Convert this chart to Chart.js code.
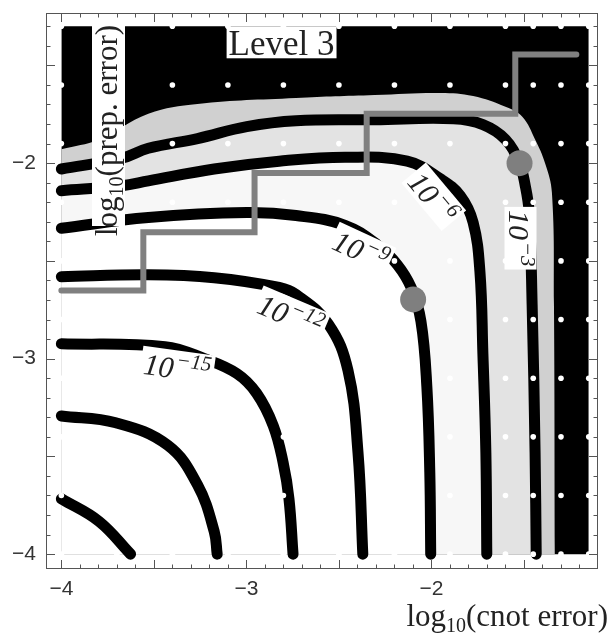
<!DOCTYPE html>
<html>
<head>
<meta charset="utf-8">
<script src="https://cdn.jsdelivr.net/npm/chart.js@4.4.1/dist/chart.umd.min.js"></script>
<style>
  html, body { margin: 0; padding: 0; background: #fff; }
  #wrap { width: 611px; height: 638px; }
</style>
</head>
<body>
<div id="wrap"><canvas id="grafico" width="611" height="638"></canvas></div>
<script>
// axes: log10(cnot error) horizontal, log10(prep. error) vertical
const xTicks = [-4, -3, -2];
const yTicks = [-4, -3, -2];

// sampled region (black = logical error too high)
const regionX = [-4, -1.15];
const regionY = [-1.3, -1.3];

// edge of the mid-gray band
const bandX = [-4.0, -3.796, -3.53, -3.264, -2.732, -2.307, -1.951, -1.775, -1.6, -1.509, -1.44, -1.386, -1.349, -1.338, -1.333];
const bandY = [-1.929, -1.879, -1.747, -1.697, -1.667, -1.652, -1.641, -1.657, -1.712, -1.763, -1.879, -2.0, -2.152, -2.722, -4.0];

// contour lines 10^-3 ... 10^-21
const c3X = [-4.0, -3.674, -3.53, -3.264, -2.998, -2.732, -2.307, -1.881, -1.722, -1.6, -1.525, -1.493, -1.472, -1.456, -1.44, -1.434];
const c3Y = [-2.03, -1.975, -1.924, -1.874, -1.813, -1.783, -1.778, -1.773, -1.803, -1.879, -2.0, -2.116, -2.253, -2.722, -3.48, -4.0];
const c6X = [-4.0, -3.674, -3.53, -3.174, -2.823, -2.467, -2.131, -1.951, -1.844, -1.775, -1.738, -1.722, -1.706, -1.701];
const c6Y = [-2.141, -2.116, -2.091, -2.03, -1.99, -1.97, -1.99, -2.081, -2.167, -2.303, -2.556, -2.975, -3.48, -4.0];
const c9X = [-4.0, -3.53, -2.998, -2.732, -2.467, -2.291, -2.184, -2.11, -2.057, -2.025, -2.009, -2.004];
const c9Y = [-2.333, -2.278, -2.253, -2.268, -2.318, -2.419, -2.52, -2.636, -2.808, -3.141, -3.581, -4.0];
const c12X = [-4.0, -3.53, -3.174, -2.823, -2.732, -2.557, -2.451, -2.397, -2.371];
const c12Y = [-2.581, -2.571, -2.586, -2.636, -2.672, -2.823, -3.061, -3.48, -4.0];
const c15X = [-4.0, -3.44, -3.227, -3.052, -2.945, -2.855, -2.802, -2.77, -2.748];
const c15Y = [-2.924, -2.939, -3.0, -3.076, -3.177, -3.343, -3.53, -3.717, -4.0];
const c18X = [-4.0, -3.706, -3.424, -3.264, -3.174, -3.158];
const c18Y = [-3.293, -3.328, -3.444, -3.646, -3.884, -4.0];
const c21X = [-4.0, -3.796, -3.626];
const c21Y = [-3.717, -3.833, -4.0];

// gray staircase
const stepX = [-4.0, -3.557, -3.557, -2.956, -2.956, -2.35, -2.35, -1.547, -1.547, -1.217];
const stepY = [-2.652, -2.652, -2.354, -2.354, -2.05, -2.05, -1.747, -1.747, -1.444, -1.444];

// gray markers
const markX = [-2.099, -1.524];
const markY = [-2.697, -2.0];

// sample grid
const gridX = [-4, -3.7, -3.4, -3.1, -2.8, -2.5, -2.2, -1.9, -1.6, -1.45, -1.3, -1.15];
const gridY = [-1.3, -1.6, -1.9, -2.2, -2.5, -2.8, -3.1, -3.4, -3.7, -4.0];

// contour labels
const labelExp = ['\u22123', '\u22126', '\u22129', '\u221212', '\u221215'];
const labelX = [-1.535, -2.0, -2.386, -2.765, -3.375];
const labelY = [-2.384, -2.182, -2.455, -2.788, -3.056];
const labelAngle = [90, 50, 25, 23, 8];

const pts = (xs, ys) => xs.map((x, i) => ({ x, y: ys[i] }));
const gridPts = gridY.flatMap(y => gridX.map(x => ({ x, y })));

const relleno = (xs, ys, color, order, tension = 0.4) => ({
  data: pts(xs, ys),
  fill: { value: -4 },
  backgroundColor: color,
  borderWidth: 0,
  pointRadius: 0,
  tension,
  order
});

const linea = (xs, ys) => ({
  data: pts(xs, ys),
  fill: false,
  borderColor: '#000',
  borderWidth: 11,
  borderCapStyle: 'round',
  borderJoinStyle: 'round',
  pointRadius: 0,
  tension: 0.4,
  order: 10
});

const serif = '"Liberation Serif", "Times New Roman", serif';
const sans = '"Liberation Sans", Arial, sans-serif';

const extras = {
  id: 'extras',
  afterDatasetsDraw(chart) {
    const { ctx, scales: { x, y }, chartArea: a } = chart;
    ctx.save();

    // contour labels with white boxes
    labelExp.forEach((exp, i) => {
      const cx = x.getPixelForValue(labelX[i]);
      const cy = y.getPixelForValue(labelY[i]);
      ctx.save();
      ctx.translate(cx, cy);
      ctx.rotate(labelAngle[i] * Math.PI / 180);
      ctx.font = `italic 30px ${serif}`;
      const w1 = ctx.measureText('10').width;
      ctx.font = `italic 21px ${serif}`;
      const w2 = ctx.measureText(exp).width;
      const total = w1 + w2 + 2;
      ctx.fillStyle = '#fff';
      ctx.fillRect(-total / 2 - 3, -19, total + 6, 32);
      ctx.fillStyle = '#222';
      ctx.textBaseline = 'alphabetic';
      ctx.font = `italic 30px ${serif}`;
      ctx.fillText('10', -total / 2, 9);
      ctx.font = `italic 21px ${serif}`;
      ctx.fillText(exp, -total / 2 + w1 + 2, -3);
      ctx.restore();
    });

    // Level 3 box
    const lx = x.getPixelForValue(-2.81);
    const ly = y.getPixelForValue(-1.3);
    ctx.font = `35px ${serif}`;
    const lw = ctx.measureText('Level 3').width;
    ctx.fillStyle = '#fff';
    ctx.fillRect(lx - lw / 2 - 2, ly, lw + 4, 32);
    ctx.fillStyle = '#222';
    ctx.textAlign = 'center';
    ctx.fillText('Level 3', lx, ly + 29);
    ctx.textAlign = 'left';

    // vertical axis title, inside the plot
    ctx.save();
    ctx.translate(108, 236);
    ctx.rotate(-Math.PI / 2);
    ctx.font = `31px ${serif}`;
    const t1 = ctx.measureText('log').width;
    ctx.font = `20px ${serif}`;
    const t2 = ctx.measureText('10').width;
    ctx.font = `31px ${serif}`;
    const t3 = ctx.measureText('(prep. error)').width;
    ctx.fillStyle = '#fff';
    ctx.fillRect(10, -16, t1 + t2 + t3 - 8, 33);
    ctx.fillStyle = '#222';
    ctx.fillText('log', 0, 9);
    ctx.font = `20px ${serif}`;
    ctx.fillText('10', t1, 15);
    ctx.font = `31px ${serif}`;
    ctx.fillText('(prep. error)', t1 + t2, 9);
    ctx.restore();

    // frame and inward ticks
    ctx.strokeStyle = '#555';
    ctx.lineWidth = 1;
    ctx.strokeRect(a.left + 0.5, a.top + 0.5, a.right - a.left - 1, a.bottom - a.top - 1);
    ctx.beginPath();
    for (let k = -40; k <= -12; k++) {
      const px = Math.round(x.getPixelForValue(k / 10)) + 0.5;
      const len = k % 5 === 0 ? 9 : 4.5;
      ctx.moveTo(px, a.bottom); ctx.lineTo(px, a.bottom - len);
      ctx.moveTo(px, a.top); ctx.lineTo(px, a.top + len);
    }
    for (let k = -40; k <= -13; k++) {
      const py = Math.round(y.getPixelForValue(k / 10)) + 0.5;
      const len = k % 5 === 0 ? 9 : 4.5;
      ctx.moveTo(a.left, py); ctx.lineTo(a.left + len, py);
      ctx.moveTo(a.right, py); ctx.lineTo(a.right - len, py);
    }
    ctx.stroke();

    // tick labels
    ctx.fillStyle = '#333';
    ctx.font = `21px ${sans}`;
    ctx.textAlign = 'center';
    ctx.textBaseline = 'middle';
    xTicks.forEach(v => ctx.fillText('\u2212' + Math.abs(v), x.getPixelForValue(v), 589));
    ctx.textAlign = 'right';
    yTicks.forEach(v => ctx.fillText('\u2212' + Math.abs(v), 36, y.getPixelForValue(v)));

    // horizontal axis title
    ctx.textBaseline = 'alphabetic';
    ctx.textAlign = 'left';
    ctx.font = `31px ${serif}`;
    const b1 = ctx.measureText('log').width;
    ctx.font = `20px ${serif}`;
    const b2 = ctx.measureText('10').width;
    ctx.font = `31px ${serif}`;
    const b3 = ctx.measureText('(cnot error)').width;
    const bx = 608 - (b1 + b2 + b3);
    ctx.fillStyle = '#222';
    ctx.fillText('log', bx, 626);
    ctx.font = `20px ${serif}`;
    ctx.fillText('10', bx + b1, 632);
    ctx.font = `31px ${serif}`;
    ctx.fillText('(cnot error)', bx + b1 + b2, 626);

    ctx.restore();
  }
};

new Chart(document.getElementById('grafico').getContext('2d'), {
  type: 'line',
  data: {
    datasets: [
      relleno(regionX, regionY, '#000', 20, 0),
      relleno(bandX, bandY, '#d0d0d0', 19),
      relleno(c3X, c3Y, '#e3e3e3', 18),
      relleno(c6X, c6Y, '#f7f7f7', 17),
      relleno(c9X, c9Y, '#ffffff', 16),
      linea(c3X, c3Y),
      linea(c6X, c6Y),
      linea(c9X, c9Y),
      linea(c12X, c12Y),
      linea(c15X, c15Y),
      linea(c18X, c18Y),
      linea(c21X, c21Y),
      {
        data: pts(stepX, stepY),
        fill: false,
        borderColor: '#808080',
        borderWidth: 6,
        borderCapStyle: 'round',
        pointRadius: 0,
        tension: 0,
        order: 5
      },
      {
        data: pts(markX, markY),
        showLine: false,
        pointRadius: 13,
        pointBackgroundColor: '#7f7f7f',
        pointBorderWidth: 0,
        order: 4
      },
      {
        data: gridPts,
        showLine: false,
        pointRadius: 2.8,
        pointBackgroundColor: '#fff',
        pointBorderWidth: 0,
        order: 3
      }
    ]
  },
  options: {
    responsive: false,
    animation: false,
    layout: { padding: { left: 46, top: 5, right: 4, bottom: 69 } },
    plugins: { legend: { display: false }, tooltip: { enabled: false } },
    scales: {
      x: { type: 'linear', min: -4.083, max: -1.1, display: false },
      y: { type: 'linear', min: -4.076, max: -1.232, display: false }
    }
  },
  plugins: [extras]
});
</script>
</body>
</html>
